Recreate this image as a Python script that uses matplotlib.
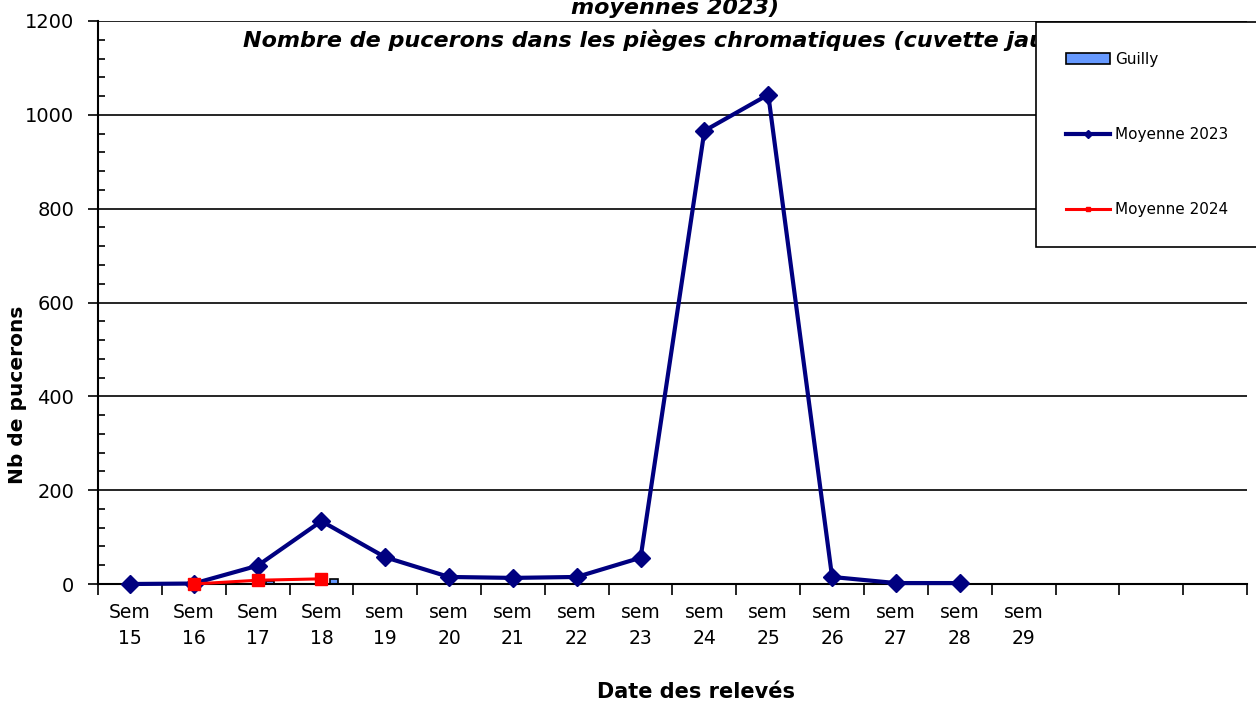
import numpy as np
import matplotlib
matplotlib.use('Agg')
import matplotlib.pyplot as plt
from matplotlib.ticker import FixedLocator, MultipleLocator

# categories (18 slots on the axis, last three empty)
semaines = ['Sem\n15', 'Sem\n16', 'Sem\n17', 'Sem\n18', 'sem\n19', 'sem\n20', 'sem\n21',
            'sem\n22', 'sem\n23', 'sem\n24', 'sem\n25', 'sem\n26', 'sem\n27', 'sem\n28',
            'sem\n29', '', '', '']

# series
guilly = [np.nan, 0, 6, 11]
moyenne_2023 = [0, 1, 39, 134, 57, 15, 13, 15, 56, 966, 1043, 15, 2, 2]
moyenne_2024 = [np.nan, 0, 8, 11]

plt.rcParams['font.family'] = ['DejaVu Sans']

fig = plt.figure(figsize=(12.56, 7.04), dpi=100)
ax = fig.add_axes([98 / 1256, 1 - 584 / 704, (1247 - 98) / 1256, (584 - 21) / 704])

n = len(semaines)
x_g = np.arange(len(guilly))
b = ax.bar(x_g + 0.2, guilly, width=0.13, color='#6699ff', edgecolor='black', linewidth=1.2,
           label='Guilly', zorder=2)
l23, = ax.plot(np.arange(len(moyenne_2023)), moyenne_2023, color='#000080', lw=3, marker='D',
               markersize=9.5, label='Moyenne 2023', zorder=4, clip_on=False)
l24, = ax.plot(np.arange(len(moyenne_2024)), moyenne_2024, color='#ff0000', lw=2.2, marker='s',
               markersize=8.5, label='Moyenne 2024', zorder=5, clip_on=False)

ax.set_xlim(-0.5, n - 0.5)
ax.set_ylim(0, 1200)

# x ticks between categories, labels centred
ax.xaxis.set_major_locator(FixedLocator(np.arange(n + 1) - 0.5))
ax.xaxis.set_minor_locator(FixedLocator(np.arange(n)))
ax.set_xticklabels([])
ax.set_xticklabels(semaines, minor=True, fontsize=13.5, linespacing=1.45)
ax.tick_params(axis='x', which='major', direction='out', length=8, width=1.2)
ax.tick_params(axis='x', which='minor', length=0, pad=14)

ax.yaxis.set_major_locator(MultipleLocator(200))
ax.yaxis.set_minor_locator(MultipleLocator(40))
ax.tick_params(axis='y', which='major', direction='out', length=7, width=1.2,
               labelsize=14, pad=10)
ax.tick_params(axis='y', which='minor', direction='in', length=5, width=1.2)

ax.yaxis.grid(True, which='major', color='black', lw=1.2)
ax.set_axisbelow(True)
for s in ['top', 'right']:
    ax.spines[s].set_visible(False)
for s in ['left', 'bottom']:
    ax.spines[s].set_linewidth(1.5)

# titles / axis labels
fig.text(243 / 1256, 1 - 40 / 704, 'Nombre de pucerons dans les pièges chromatiques (cuvette jaune) à Guilly',
         fontsize=16, fontweight='bold', style='italic', ha='left', va='center')
fig.text(675 / 1256, 1 - 8 / 704, 'moyennes 2023)', fontsize=16, fontweight='bold',
         style='italic', ha='center', va='center')
fig.text(696 / 1256, 1 - 692 / 704, 'Date des relevés', fontsize=15, fontweight='bold',
         ha='center', va='center')
fig.text(18 / 1256, 1 - 395 / 704, 'Nb de pucerons', fontsize=14.5, fontweight='bold',
         rotation=90, ha='center', va='center')

leg = fig.legend(handles=[b, l23, l24], loc='upper left',
                 bbox_to_anchor=(1036 / 1256, 1 - 22 / 704, 1 - 1036 / 1256 + 0.02, 0),
                 mode='expand', borderaxespad=0, frameon=True, fancybox=False,
                 edgecolor='black', framealpha=1, fontsize=11, labelspacing=3.95,
                 handlelength=2.9, handletextpad=0.3, borderpad=1.95, markerscale=0.4,
                 alignment='center')
leg.get_frame().set_linewidth(1.2)
leg.set_zorder(10)

fig.savefig('out.png', dpi=100)
